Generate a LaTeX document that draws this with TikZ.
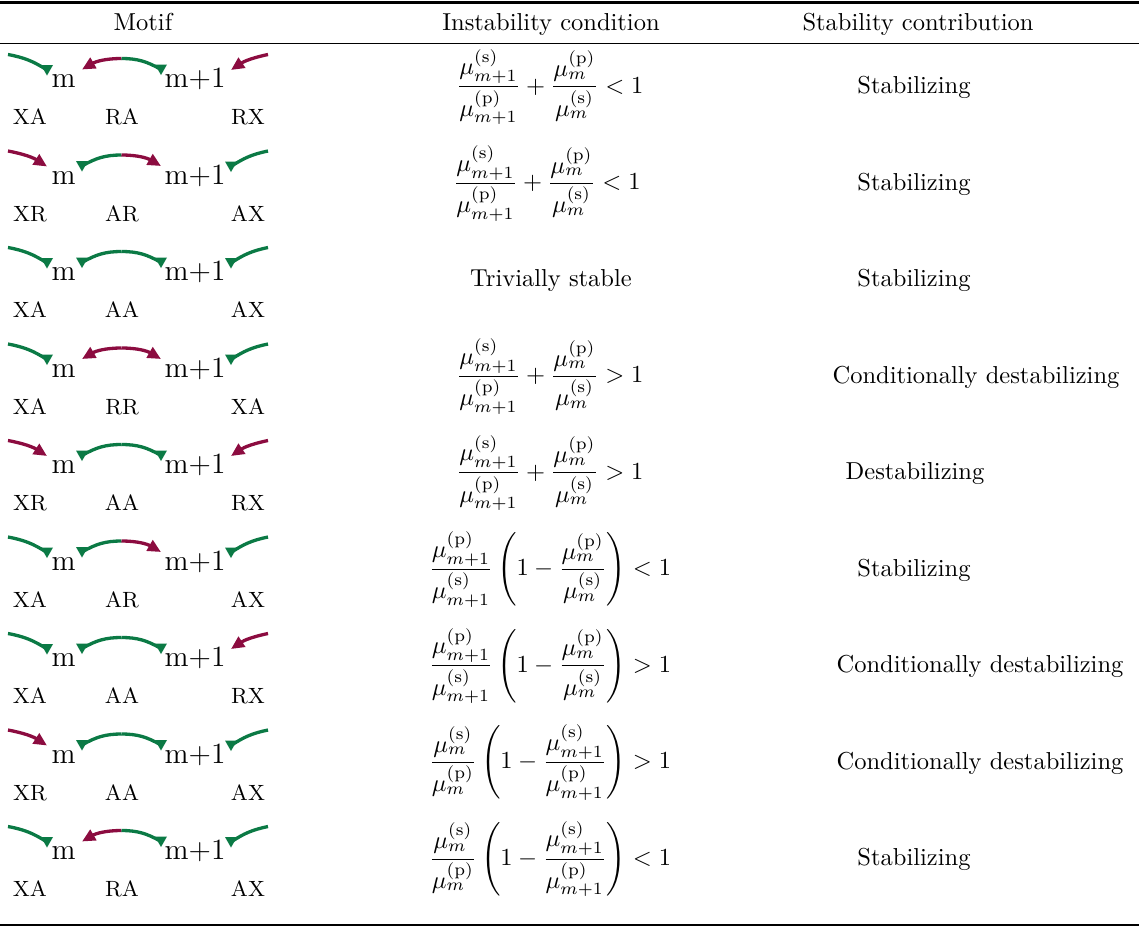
\documentclass[tikz,border=0pt]{standalone}
\usepackage{amsmath}
\usetikzlibrary{arrows.meta}
\definecolor{agreen}{HTML}{0B7A45}
\definecolor{rwine}{HTML}{8C0C40}
\newcommand{\muS}[1]{\mu^{(\mathrm{s})}_{#1}}
\newcommand{\muP}[1]{\mu^{(\mathrm{p})}_{#1}}
\tikzset{
 gline/.style={draw=agreen, line width=1.35pt},
 rline/.style={draw=rwine, line width=1.35pt, -{Triangle[length=5.4pt,width=4.8pt]}},
 gmark/.pic={\fill[agreen] (-6,5)--(6,5)--(0,-5.5)--cycle;},
 mtxt/.style={font=\large, anchor=base, inner sep=0pt},
 lab/.style={font=\small, anchor=base, inner sep=0pt},
 hd/.style={anchor=base, inner sep=0pt},
 cell/.style={anchor=mid, inner sep=0pt},
 fml/.style={anchor=base, inner sep=0pt},
 heavyrule/.style={line width=1pt},
 lightrule/.style={line width=0.55pt},
}
\newcommand{\motif}[9]{%
\begin{scope}[shift={(0,-#2)}]
\node[mtxt] (m#1) at (63.5,0) {m};
\node[mtxt] (mp#1) at (195,0) {m+1};
\coordinate (ls#1) at (8,33); \coordinate (le#1) at (47,17.5);
\coordinate (ma#1) at (82,18); \coordinate (mm#1) at (121.5,29); \coordinate (mb#1) at (161,18);
\coordinate (rs#1) at (268,33); \coordinate (re#1) at (231,17.5);
\if A#3\draw[gline] (ls#1) to[bend left=11] (le#1); \pic at (le#1) {gmark};\else\draw[rline] (ls#1) to[bend left=11] (le#1);\fi
\if A#4\draw[gline] (mm#1) to[out=180,in=30] (ma#1); \pic at (ma#1) {gmark};\else\draw[rline] (mm#1) to[out=180,in=30] (ma#1);\fi
\if A#5\draw[gline] (mm#1) to[out=0,in=150] (mb#1); \pic at (mb#1) {gmark};\else\draw[rline] (mm#1) to[out=0,in=150] (mb#1);\fi
\if A#6\draw[gline] (rs#1) to[bend right=11] (re#1); \pic at (re#1) {gmark};\else\draw[rline] (rs#1) to[bend right=11] (re#1);\fi
\node[lab] (ll#1) at (30,-37) {#7};
\node[lab] (lm#1) at (122,-37) {#8};
\node[lab] (lr#1) at (248,-37) {#9};
\end{scope}}
\begin{document}
\begin{tikzpicture}[x=0.408pt,y=0.408pt]
\useasboundingbox (0,0) rectangle (1139,-927);
% rules
\coordinate (t0) at (0,-2.5); \coordinate (t1) at (1139,-2.5);
\coordinate (h0) at (0,-43.5); \coordinate (h1) at (1139,-43.5);
\coordinate (b0) at (0,-925); \coordinate (b1) at (1139,-925);
\draw[heavyrule] (t0) -- (t1);
\draw[lightrule] (h0) -- (h1);
\draw[heavyrule] (b0) -- (b1);
% header
\node[hd] (hm) at (143,-30) {Motif};
\node[hd] (hi) at (551,-30) {Instability condition};
\node[hd] (hs) at (918,-30) {Stability contribution};
% motifs
\motif{1}{87.5}{A}{R}{A}{R}{XA}{RA}{RX}
\motif{2}{184}{R}{A}{R}{A}{XR}{AR}{AX}
\motif{3}{280.5}{A}{A}{A}{A}{XA}{AA}{AX}
\motif{4}{377}{A}{R}{R}{A}{XA}{RR}{XA}
\motif{5}{473.5}{R}{A}{A}{R}{XR}{AA}{RX}
\motif{6}{570}{A}{A}{R}{A}{XA}{AR}{AX}
\motif{7}{666.5}{A}{A}{A}{R}{XA}{AA}{RX}
\motif{8}{763}{R}{A}{A}{A}{XR}{AA}{AX}
\motif{9}{859.5}{A}{R}{A}{A}{XA}{RA}{AX}
% instability conditions
\node[fml] (f1) at (550,-93.1) {$\displaystyle \frac{\muS{m+1}}{\muP{m+1}}+\frac{\muP{m}}{\muS{m}}<1$};
\node[fml] (f2) at (547,-189.6) {$\displaystyle \frac{\muS{m+1}}{\muP{m+1}}+\frac{\muP{m}}{\muS{m}}<1$};
\node[cell] (f3) at (551,-281.5) {Trivially stable};
\node[fml] (f4) at (550,-382.6) {$\displaystyle \frac{\muS{m+1}}{\muP{m+1}}+\frac{\muP{m}}{\muS{m}}>1$};
\node[fml] (f5) at (550,-479.1) {$\displaystyle \frac{\muS{m+1}}{\muP{m+1}}+\frac{\muP{m}}{\muS{m}}>1$};
\node[fml] (f6) at (550,-575.6) {$\displaystyle \frac{\muP{m+1}}{\muS{m+1}}\left(1-\frac{\muP{m}}{\muS{m}}\right)<1$};
\node[fml] (f7) at (550,-672.1) {$\displaystyle \frac{\muP{m+1}}{\muS{m+1}}\left(1-\frac{\muP{m}}{\muS{m}}\right)>1$};
\node[fml] (f8) at (550,-768.6) {$\displaystyle \frac{\muS{m}}{\muP{m}}\left(1-\frac{\muS{m+1}}{\muP{m+1}}\right)>1$};
\node[fml] (f9) at (550,-865.1) {$\displaystyle \frac{\muS{m}}{\muP{m}}\left(1-\frac{\muS{m+1}}{\muP{m+1}}\right)<1$};
% stability contributions
\node[cell] (s1) at (914,-88.5) {Stabilizing};
\node[cell] (s2) at (914,-185) {Stabilizing};
\node[cell] (s3) at (914,-281.5) {Stabilizing};
\node[cell] (s4) at (976,-378) {Conditionally destabilizing};
\node[cell] (s5) at (915,-474.5) {Destabilizing};
\node[cell] (s6) at (914,-571) {Stabilizing};
\node[cell] (s7) at (980,-667.5) {Conditionally destabilizing};
\node[cell] (s8) at (980,-764) {Conditionally destabilizing};
\node[cell] (s9) at (914,-860.5) {Stabilizing};
\end{tikzpicture}
\end{document}
